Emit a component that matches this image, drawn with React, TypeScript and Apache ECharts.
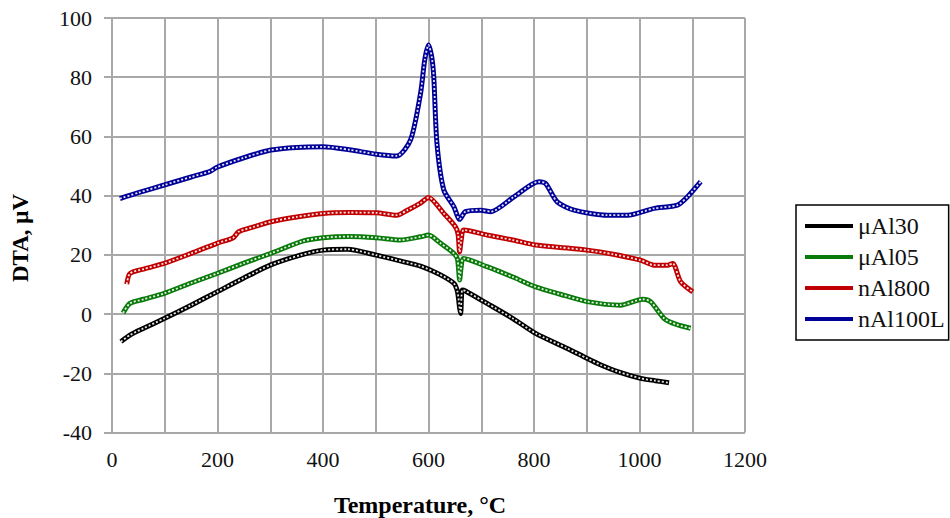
import React, { useEffect, useRef } from "react";
import * as echarts from "echarts";

const seriesNames = ["μAl30", "μAl05", "nAl800", "nAl100L"];
const seriesColors = ["#000000", "#0a7a0a", "#c00000", "#000099"];

const tempAl30 = [17, 34, 60, 99, 150, 199, 250, 301, 357, 400, 446, 501, 550, 585, 620, 648, 655, 659, 661, 664, 670, 711, 760, 803, 863, 901, 927, 960, 1002, 1030, 1056];
const dtaAl30 = [-9.3, -7.1, -4.8, -1.5, 3.0, 7.5, 12.2, 16.6, 19.9, 21.6, 21.9, 19.9, 17.8, 16.2, 13.5, 10.4, 7.5, 2.0, 0.2, 8.1, 7.8, 3.6, -1.5, -6.5, -11.6, -15.0, -17.2, -19.5, -21.7, -22.5, -23.2];

const tempAl05 = [21, 34, 60, 99, 150, 199, 250, 301, 363, 400, 450, 501, 547, 585, 600, 623, 648, 655, 659, 662, 666, 711, 760, 803, 850, 901, 964, 1006, 1021, 1047, 1070, 1097];
const dtaAl05 = [0.4, 3.6, 5.0, 7.0, 10.5, 13.7, 17.2, 20.5, 24.7, 25.8, 26.2, 25.8, 25.0, 26.1, 26.7, 23.9, 20.5, 18.5, 11.5, 16.0, 18.8, 16.0, 12.5, 9.2, 6.7, 4.2, 3.0, 5.0, 4.2, -1.5, -3.5, -4.8];

const tempAl800 = [28, 34, 60, 99, 150, 199, 230, 240, 270, 301, 350, 400, 450, 501, 540, 560, 585, 600, 629, 651, 656, 659, 662, 667, 711, 760, 803, 850, 901, 950, 1002, 1028, 1053, 1063, 1078, 1101];
const dtaAl800 = [10.1, 13.7, 15.2, 17.1, 20.5, 23.9, 25.8, 27.8, 29.5, 31.2, 32.8, 34.0, 34.3, 34.2, 33.4, 35.1, 37.5, 39.4, 34.0, 29.5, 27.0, 21.0, 25.0, 28.4, 26.7, 25.0, 23.3, 22.5, 21.6, 20.2, 18.2, 16.5, 16.5, 17.1, 10.9, 7.5];

const tempAl100L = [15, 50, 99, 150, 186, 199, 250, 301, 350, 400, 450, 501, 540, 566, 585, 593, 600, 606, 610, 616, 629, 648, 659, 670, 699, 718, 762, 809, 822, 844, 876, 939, 977, 1028, 1072, 1091, 1116];
const dtaAl100L = [39.0, 41.0, 43.6, 46.3, 48.2, 49.6, 52.8, 55.4, 56.3, 56.5, 55.5, 54.0, 53.4, 58.8, 74.6, 86.0, 90.9, 87.0, 80.0, 57.7, 41.9, 36.3, 32.0, 34.6, 35.1, 34.6, 39.6, 44.7, 44.1, 37.9, 35.1, 33.4, 33.4, 35.7, 36.8, 39.6, 44.7];

const seriesTemps = [tempAl30, tempAl05, tempAl800, tempAl100L];
const seriesDta = [dtaAl30, dtaAl05, dtaAl800, dtaAl100L];

const xTitle = "Temperature, °C";
const yTitle = "DTA, μV";

const FONT = "Liberation Serif";

export default function App() {
  const ref = useRef<HTMLDivElement>(null);
  useEffect(() => {
    if (!ref.current) return;
    const chart = echarts.init(ref.current, undefined, { renderer: "svg" });
    const gridLine = { color: "#a8a8a8", width: 2 };
    const series: any[] = [];
    seriesNames.forEach((name, i) => {
      const data = seriesTemps[i].map((t, k) => [t, seriesDta[i][k]]);
      series.push({
        name,
        type: "line",
        data,
        symbol: "none",
        smooth: 0.25,
        lineStyle: { color: seriesColors[i], width: 5 },
        itemStyle: { color: seriesColors[i] },
        z: 2 + i,
      });
      series.push({
        name: name + "-texture",
        type: "line",
        data,
        symbol: "none",
        smooth: 0.25,
        silent: true,
        lineStyle: { color: "#ffffff", width: 1.8, type: [2, 2], opacity: 0.9 },
        z: 2 + i,
      });
    });
    const labelStyle = {
      color: "#111",
      fontFamily: FONT,
      fontSize: 22,
      fontWeight: "normal",
    };
    chart.setOption({
      animation: false,
      backgroundColor: "#ffffff",
      textStyle: { fontFamily: FONT },
      grid: { left: 112, right: 205, top: 18, bottom: 85.5, containLabel: false },
      xAxis: {
        type: "value",
        min: 0,
        max: 1200,
        interval: 200,
        axisLine: { show: true, lineStyle: gridLine },
        axisTick: { show: true, length: 8, lineStyle: gridLine },
        minorTick: { show: true, splitNumber: 2, length: 8, lineStyle: gridLine },
        splitLine: { show: true, lineStyle: gridLine },
        minorSplitLine: { show: true, lineStyle: gridLine },
        axisLabel: { ...labelStyle, margin: 16, formatter: (v: number) => String(v) },
      },
      yAxis: {
        type: "value",
        min: -40,
        max: 100,
        interval: 20,
        axisLine: { show: true, lineStyle: gridLine },
        axisTick: { show: true, length: 8, lineStyle: gridLine },
        splitLine: { show: true, lineStyle: gridLine },
        axisLabel: { ...labelStyle, margin: 20, formatter: (v: number) => String(v) },
      },
      legend: {
        data: seriesNames,
        orient: "vertical",
        left: 796,
        top: 205,
        icon: "rect",
        itemWidth: 48,
        itemHeight: 4,
        itemGap: 7,
        padding: [9, 4, 9, 9],
        borderColor: "#000",
        borderWidth: 1.5,
        textStyle: { fontFamily: FONT, fontSize: 24, color: "#111", lineHeight: 24 },
      },
      graphic: [
        {
          type: "text",
          x: 420,
          y: 505,
          style: {
            text: xTitle,
            font: `bold 24px "${FONT}"`,
            fill: "#000",
            align: "center",
            verticalAlign: "middle",
          },
        },
        {
          type: "text",
          x: 20,
          y: 238,
          rotation: Math.PI / 2,
          style: {
            text: yTitle,
            font: `bold 23px "${FONT}"`,
            fill: "#000",
            align: "center",
            verticalAlign: "middle",
          },
        },
      ],
      series,
    });
    return () => chart.dispose();
  }, []);
  return (
    <div
      ref={ref}
      style={{ position: "fixed", left: 0, top: 0, width: 950, height: 518 }}
    />
  );
}
